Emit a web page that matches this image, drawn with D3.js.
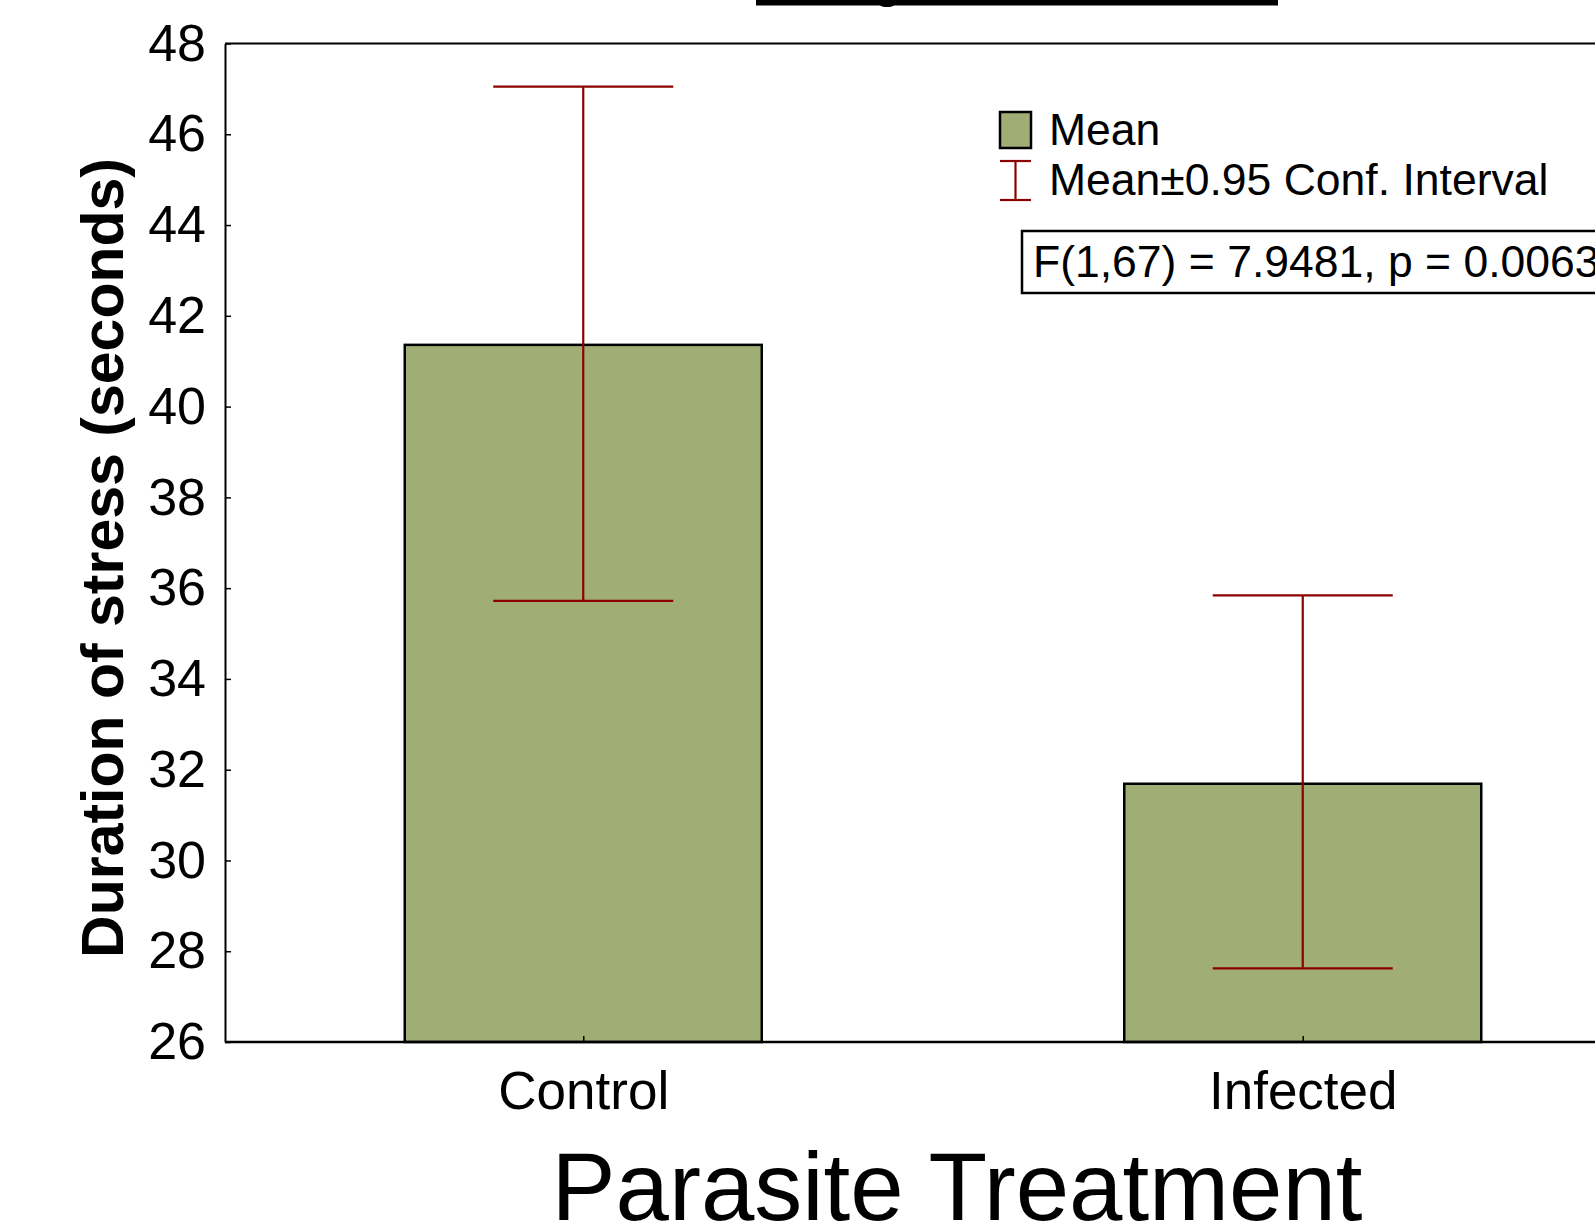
<!DOCTYPE html>
<html>
<head>
<meta charset="utf-8">
<script src="https://cdn.jsdelivr.net/npm/d3@7"></script>
<style>
  html, body { margin: 0; padding: 0; background: #ffffff; overflow: hidden; }
  svg { display: block; font-family: "Liberation Sans", Arial, sans-serif; }
</style>
</head>
<body>
<div id="chart"></div>
<script>
// ---- data ----
const categories = ["Control", "Infected"];
const means = [41.36, 31.69];
const ciLow = [35.72, 27.62];
const ciHigh = [47.05, 35.84];
const yTicks = [26, 28, 30, 32, 34, 36, 38, 40, 42, 44, 46, 48];
const yTitle = "Duration of stress (seconds)";
const xTitle = "Parasite Treatment";
const legendLabels = ["Mean", "Mean\u00B10.95 Conf. Interval"];
const statText = "F(1,67) = 7.9481, p = 0.0063";

// ---- layout ----
const W = 1595, H = 1229;
const plotL = 225, plotR = 1664, plotT = 43.5, plotB = 1042;
const barFill = "#a0ad75";
const errColor = "#8b0000";

const svg = d3.select("#chart").append("svg")
  .attr("width", W).attr("height", H);

const x = d3.scalePoint().domain(categories).range([plotL - 1.5, plotR - 1.5]).padding(0.5);
const y = d3.scaleLinear().domain([26, 48]).range([plotB, plotT]);
const barW = 357;
const capW = 180;

// title box remnant at top
svg.append("rect").attr("x", 756).attr("y", -10).attr("width", 522).attr("height", 15.5)
  .attr("fill", "#000");
svg.append("ellipse").attr("cx", 887).attr("cy", 5).attr("rx", 7).attr("ry", 2).attr("fill", "#000");

// bars
svg.append("g").selectAll("rect").data(categories).join("rect")
  .attr("x", d => x(d) - barW / 2)
  .attr("y", (d, i) => y(means[i]))
  .attr("width", barW)
  .attr("height", (d, i) => y(26) - y(means[i]))
  .attr("fill", barFill)
  .attr("stroke", "#000")
  .attr("stroke-width", 2.5);

// error bars
const eg = svg.append("g").attr("stroke", errColor).attr("stroke-width", 2.2).attr("fill", "none");
categories.forEach((c, i) => {
  const cx = x(c);
  eg.append("line").attr("x1", cx).attr("x2", cx).attr("y1", y(ciLow[i])).attr("y2", y(ciHigh[i]));
  eg.append("line").attr("x1", cx - capW / 2).attr("x2", cx + capW / 2).attr("y1", y(ciHigh[i])).attr("y2", y(ciHigh[i]));
  eg.append("line").attr("x1", cx - capW / 2).attr("x2", cx + capW / 2).attr("y1", y(ciLow[i])).attr("y2", y(ciLow[i]));
});

// frame (top & right)
svg.append("path")
  .attr("d", `M${plotL},${plotT}H${plotR}V${plotB}`)
  .attr("fill", "none").attr("stroke", "#000").attr("stroke-width", 2);

// y axis
const yAxis = svg.append("g").attr("transform", `translate(${plotL},0)`)
  .call(d3.axisLeft(y).tickValues(yTicks).tickSizeInner(-6).tickSizeOuter(0).tickPadding(19));
yAxis.select(".domain").attr("stroke", "#000").attr("stroke-width", 2);
yAxis.selectAll(".tick line").attr("stroke", "#000").attr("stroke-width", 1.5);
yAxis.selectAll(".tick text").attr("font-size", 52).attr("fill", "#000")
  .attr("font-family", "'Liberation Sans', Arial, sans-serif");

// x axis
const xAxis = svg.append("g").attr("transform", `translate(0,${plotB})`)
  .call(d3.axisBottom(x).tickSizeInner(-6).tickSizeOuter(0).tickPadding(29));
xAxis.select(".domain").attr("stroke", "#000").attr("stroke-width", 2.5)
  .attr("d", `M${plotL},0H${plotR}`);
xAxis.selectAll(".tick line").attr("stroke", "#000").attr("stroke-width", 1.5);
xAxis.selectAll(".tick text").attr("font-size", 53).attr("fill", "#000")
  .attr("font-family", "'Liberation Sans', Arial, sans-serif");

// axis titles
svg.append("text")
  .attr("transform", "translate(123,558) rotate(-90)")
  .attr("text-anchor", "middle")
  .attr("font-size", 59).attr("font-weight", "bold").attr("fill", "#000")
  .text(yTitle);

svg.append("text")
  .attr("x", 957).attr("y", 1220)
  .attr("text-anchor", "middle")
  .attr("font-size", 96).attr("fill", "#000")
  .text(xTitle);

// legend
const lg = svg.append("g");
lg.append("rect").attr("x", 1000).attr("y", 112).attr("width", 31).attr("height", 36)
  .attr("fill", barFill).attr("stroke", "#000").attr("stroke-width", 2.5);
lg.append("text").attr("x", 1049).attr("y", 145).attr("font-size", 44.5).attr("fill", "#000").text(legendLabels[0]);
const li = lg.append("g").attr("stroke", errColor).attr("stroke-width", 2.2);
li.append("line").attr("x1", 1015.5).attr("x2", 1015.5).attr("y1", 161).attr("y2", 200);
li.append("line").attr("x1", 1000).attr("x2", 1031).attr("y1", 161).attr("y2", 161);
li.append("line").attr("x1", 1000).attr("x2", 1031).attr("y1", 200).attr("y2", 200);
lg.append("text").attr("x", 1049).attr("y", 195).attr("font-size", 44.5).attr("fill", "#000").text(legendLabels[1]);

// stats box
svg.append("rect").attr("x", 1022).attr("y", 231).attr("width", 640).attr("height", 62)
  .attr("fill", "#fff").attr("stroke", "#000").attr("stroke-width", 2.5);
svg.append("text").attr("x", 1033).attr("y", 277).attr("font-size", 44.5).attr("fill", "#000").text(statText);
</script>
</body>
</html>
